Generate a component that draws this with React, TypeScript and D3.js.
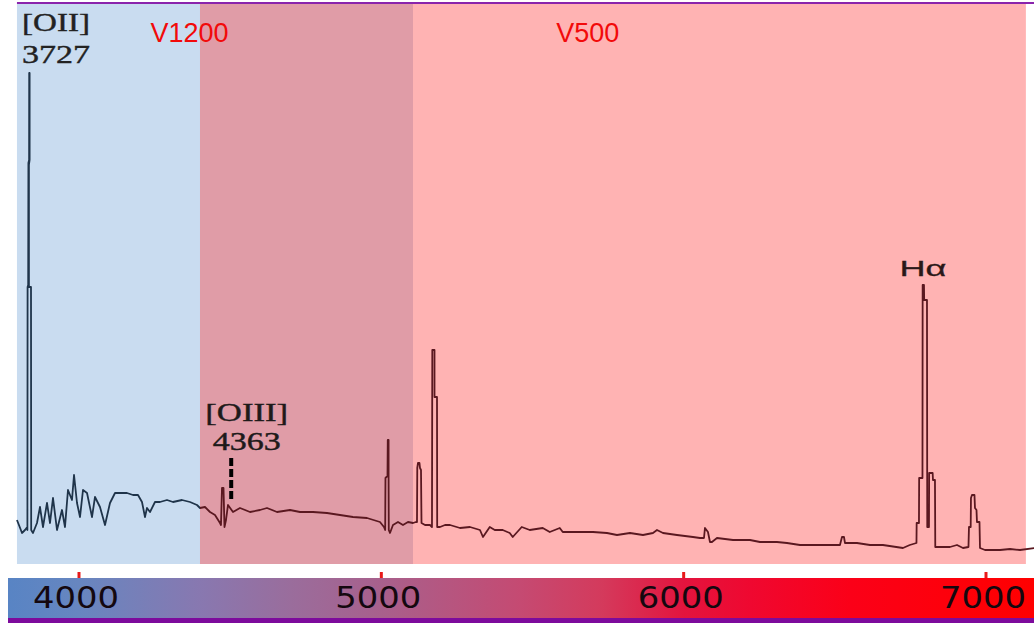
import React from "react";
import * as d3 from "d3";

// Spectrum (rest wavelength in Å, relative flux)
const wavelengths = [
  3692, 3702, 3708, 3717.5, 3722.2, 3725.1, 3725.7, 3727.6, 3728.3, 3730.5, 3730.8, 3732.1, 3732.1, 3729.9, 3729.9, 3736.5, 3737.1, 3742.8,
  3755.5, 3765, 3774.5, 3787.2, 3796.7, 3806.2, 3818.9, 3834.7, 3844.2, 3853.7, 3866.4, 3872.8, 3882.3, 3891.8, 3901.3, 3914, 3929.8,
  3939.3, 3955.1, 3971, 3986.8, 4002.7, 4018.5, 4040.7, 4059.7, 4075.5, 4088.2, 4097.7, 4104, 4113.6, 4129.4, 4145.3, 4167.4, 4186.5,
  4215, 4240.3, 4262.5, 4272, 4287.8, 4303.7, 4319.5, 4335.4, 4338.5, 4341.7, 4346.5, 4349.6, 4354.4, 4360.7, 4376.6, 4398.7, 4430.4,
  4462.1, 4484.3, 4516, 4557.2, 4588.9, 4630, 4674.4, 4715.6, 4756.8, 4801.2, 4842.3, 4855, 4858.8, 4859.7, 4866.1, 4867, 4869.6,
  4869.6, 4870.2, 4874, 4883.5, 4899.4, 4915.2, 4931.1, 4947, 4956.4, 4959.6, 4960.5, 4962.8, 4967.5, 4969.1, 4972.3, 4973.9, 4985,
  5000.8, 5007.1, 5008.1, 5015.1, 5015.1, 5023, 5023.6, 5032.5, 5048.3, 5064.2, 5095.9, 5127.5, 5159.2, 5168.7, 5190.2, 5206, 5231.3,
  5253.5, 5263, 5291.5, 5316.9, 5358.1, 5380.3, 5412, 5421.5, 5466.6, 5517.3, 5561.6, 5593.3, 5634.5, 5675.7, 5707.4, 5720.1, 5739.1,
  5783.4, 5834.1, 5856.3, 5869, 5872.1, 5881.6, 5888, 5894.3, 5910.2, 5960.9, 6014.7, 6046.4, 6100.3, 6132, 6173.2, 6227, 6277.7,
  6299.9, 6306.3, 6312.6, 6315.8, 6353.8, 6395, 6436, 6499.5, 6521.1, 6542.3, 6542.9, 6550.2, 6550.8, 6561.3, 6561.9, 6566.1, 6566.7,
  6575.6, 6576.5, 6581.9, 6582.5, 6593.6, 6594.6, 6600.9, 6601.9, 6616.9, 6648.5, 6670.7, 6689.7, 6707.1, 6708.7, 6714.1, 6715,
  6718.2, 6726.1, 6727.7, 6732.5, 6734, 6742, 6743.6, 6759.5, 6807.1, 6838.8, 6870.5, 6915.9,
];
const fluxes = [
  9, 7.4, 6.4, 7, 7.4, 7, 55.6, 56, 80.4, 81, 98.4, 98.4, 81, 80, 55.6, 55.6, 7, 6.4,
  8.4, 11.6, 7.6, 12.4, 8.4, 13.4, 7, 11, 7.6, 15, 13, 18, 12.4, 9.6, 15, 14.4, 9.6,
  13.6, 11.6, 8, 12.4, 14.4, 14.4, 14.4, 14, 14, 12.6, 9.6, 11.4, 10.6, 12.6, 12.6, 13, 12.6,
  13, 12.6, 12, 11.4, 11.6, 10.6, 10, 8.4, 8, 15.4, 15.4, 7.6, 9, 12, 10.6, 11.4, 10.6,
  11, 11.4, 10.6, 11, 10.6, 10.6, 10.4, 10, 9.6, 9.4, 8.6, 7.6, 7, 17.4, 17.8, 25, 25,
  17.4, 7, 6.4, 8, 8.6, 8, 8.6, 8.4, 8.6, 8.6, 19.4, 20.4, 20.4, 19.4, 19, 8.4, 8,
  8, 7.6, 43, 43, 33.6, 33.6, 7.6, 7.6, 8, 8, 7.4, 7.6, 7, 5.6, 7.6, 7, 7,
  6.4, 5.6, 7.6, 7, 7.4, 6.6, 7.4, 6.6, 6.6, 6.6, 6.4, 6, 6.4, 6, 6.4, 7, 6.4,
  6, 5.6, 5.4, 5.4, 7.4, 6.6, 4.6, 4.6, 5.4, 5, 5, 4.6, 4.6, 4.4, 4, 4, 4,
  4, 5.6, 5.6, 4.4, 4.4, 4, 4, 3.4, 4, 4.4, 8.4, 8.4, 17.4, 17.4, 56, 56, 53,
  53, 7.6, 7.6, 18.4, 18.4, 17, 17, 3.6, 3.6, 3.6, 4, 3.4, 3.6, 7.6, 7.6, 13.4,
  14, 14, 11.4, 11, 8.6, 8.6, 3.4, 3, 3, 3.2, 3, 3.4,
];

// Grating coverage bands (Å, spectrum scale)
const bandNames = ["", "V1200", "V500"];
const bandStarts = [3692, 4272, 4947];
const bandEnds = [4272, 4947, 6889];
const bandLabelAt = [4239, 5501];

// Line annotations
const lineNames = ["[OII]", "[OIII]", "Hα"];
const lineWavelengths = [3727, 4363, 6563];
const lineSubLabels = ["3727", "4363", ""];

// Colour-bar axis
const axisTicks = [4000, 5000, 6000, 7000];
const barStopWavelengths = [3765, 4000, 4400, 4700, 5000, 5460, 5730, 6000, 6220, 6550, 7160];

const W = 1034;
const H = 623;

export default function App() {
  const sx = d3.scaleLinear().domain([3727, 6563]).range([28, 923]);
  const sy = d3.scaleLinear().domain([0, 100]).range([565, 65]);
  const ax = d3.scaleLinear().domain([4000, 7000]).range([79, 986]);

  const pts = wavelengths.map((w, i) => [w, fluxes[i]] as [number, number]);
  const line = d3
    .line<[number, number]>()
    .x((d) => sx(d[0]))
    .y((d) => sy(d[1]));

  const bandFill = ["#c9dcf0", "#e09ca7", "#ffb3b3"];
  const barColors = ["#5884c4", "#6786c0", "#8878b0", "#9a6d9c", "#a8608c", "#c54a72", "#d43a5c", "#e3143e", "#ef0830", "#fb0018", "#ff0000"];
  const barX0 = ax(barStopWavelengths[0]);
  const barX1 = ax(barStopWavelengths[barStopWavelengths.length - 1]);

  const bandTop = 4;
  const bandBottom = 564;
  const splitX = sx(bandStarts[1]) / W;
  const serif = "'Liberation Serif', 'Times New Roman', serif";

  return (
    <svg
      width={W}
      height={H}
      style={{ position: "absolute", left: 0, top: 0, background: "#fff" }}
    >
      <defs>
        <linearGradient id="bar" gradientUnits="userSpaceOnUse" x1={barX0} x2={barX1} y1={0} y2={0}>
          {barStopWavelengths.map((w, i) => (
            <stop key={i} offset={(ax(w) - barX0) / (barX1 - barX0)} stopColor={barColors[i]} />
          ))}
        </linearGradient>
        <linearGradient id="ink" gradientUnits="userSpaceOnUse" x1={0} x2={W} y1={0} y2={0}>
          <stop offset={0} stopColor="#1f344a" />
          <stop offset={splitX} stopColor="#1f344a" />
          <stop offset={splitX} stopColor="#5a1820" />
          <stop offset={1} stopColor="#5a1820" />
        </linearGradient>
      </defs>

      {bandNames.map((n, i) => (
        <rect
          key={i}
          x={sx(bandStarts[i])}
          y={bandTop}
          width={sx(bandEnds[i]) - sx(bandStarts[i])}
          height={bandBottom - bandTop}
          fill={bandFill[i]}
        />
      ))}

      <line x1={sx(bandStarts[0])} x2={W} y1={3} y2={3} stroke="#8a24ac" strokeWidth={2} />

      {bandNames.slice(1).map((n, i) => (
        <text
          key={n}
          x={sx(bandLabelAt[i])}
          y={42}
          textAnchor="middle"
          fontFamily="'Liberation Sans', Arial, sans-serif"
          fontSize={27}
          fill="#f20a0a"
        >
          {n}
        </text>
      ))}

      <path
        d={line(pts) || ""}
        fill="none"
        stroke="url(#ink)"
        strokeWidth={1.8}
        strokeLinejoin="round"
      />

      {/* [OII] */}
      <text x={sx(lineWavelengths[0]) - 6} y={31} fontFamily={serif} fontSize={26} fill="#222" stroke="#222" strokeWidth={0.4} textLength={68} lengthAdjust="spacingAndGlyphs">
        {lineNames[0]}
      </text>
      <text x={sx(lineWavelengths[0]) - 6} y={63} fontFamily={serif} fontSize={26} fill="#222" stroke="#222" strokeWidth={0.4} textLength={68} lengthAdjust="spacingAndGlyphs">
        {lineSubLabels[0]}
      </text>

      {/* [OIII] */}
      <text x={sx(lineWavelengths[1]) + 18} y={421} textAnchor="middle" fontFamily={serif} fontSize={26} fill="#1e1a1a" stroke="#1e1a1a" strokeWidth={0.4} textLength={83} lengthAdjust="spacingAndGlyphs">
        {lineNames[1]}
      </text>
      <text x={sx(lineWavelengths[1]) + 18} y={450} textAnchor="middle" fontFamily={serif} fontSize={25} fill="#1e1a1a" stroke="#1e1a1a" strokeWidth={0.4} textLength={68} lengthAdjust="spacingAndGlyphs">
        {lineSubLabels[1]}
      </text>
      <line
        x1={sx(lineWavelengths[1]) + 2.5}
        x2={sx(lineWavelengths[1]) + 2.5}
        y1={458}
        y2={500}
        stroke="#000"
        strokeWidth={4}
        strokeDasharray="8,3"
      />

      {/* Hα */}
      <text x={sx(lineWavelengths[2])} y={276} textAnchor="middle" fontFamily="'Liberation Sans', Arial, sans-serif" fontSize={22} fill="#2a1818" stroke="#2a1818" strokeWidth={0.3} textLength={47} lengthAdjust="spacingAndGlyphs">
        {lineNames[2]}
      </text>

      {/* colour bar */}
      <rect x={8} y={578} width={W - 8} height={40} fill="url(#bar)" />
      <rect x={8} y={618} width={W - 8} height={5} fill="#7d0a9c" />

      {axisTicks.map((t) => (
        <g key={t}>
          <line x1={ax(t)} x2={ax(t)} y1={572} y2={578} stroke="#e81a1a" strokeWidth={3} />
          <text
            x={ax(t) - 3}
            y={608}
            textAnchor="middle"
            fontFamily="'DejaVu Sans', Verdana, sans-serif"
            fontSize={31}
            fill="#14080f"
            textLength={86}
            lengthAdjust="spacingAndGlyphs"
          >
            {t}
          </text>
        </g>
      ))}
    </svg>
  );
}
